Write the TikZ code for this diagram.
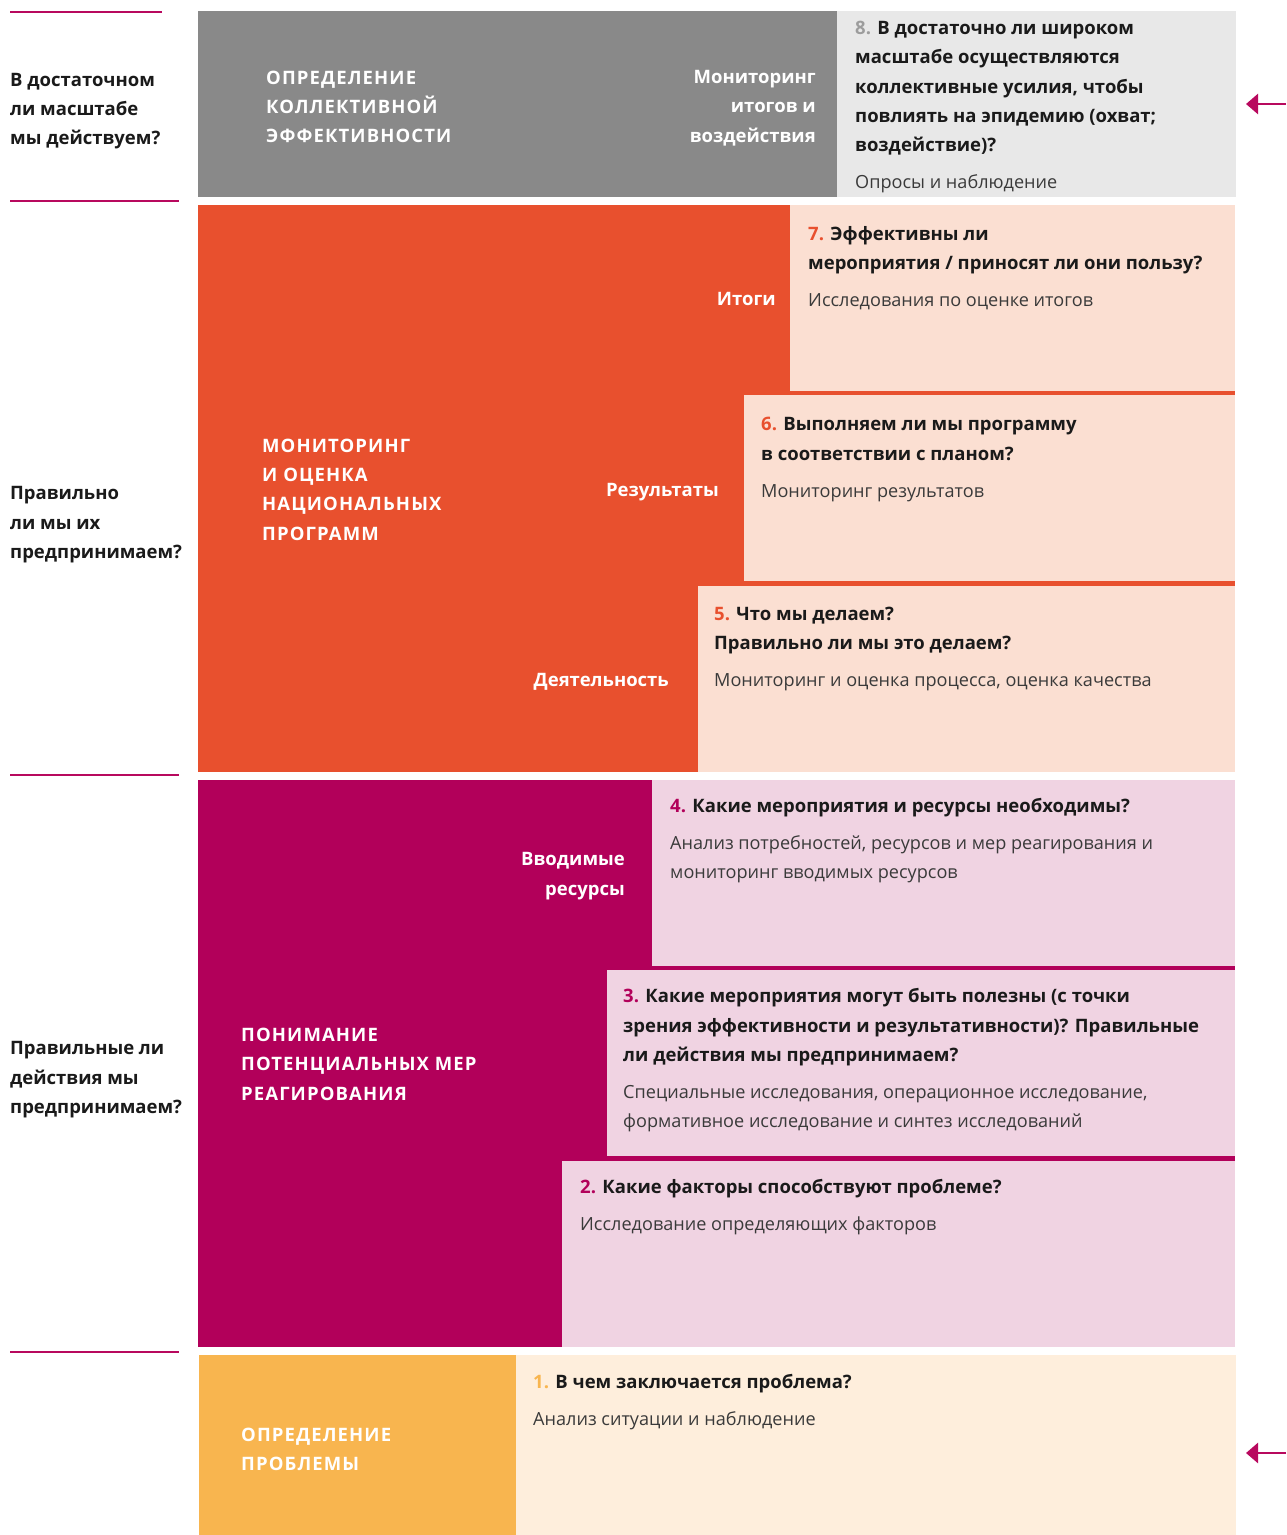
\documentclass[tikz,border=0pt]{standalone}
\usepackage{fontspec}
\setmainfont{Open Sans}
\newfontfamily\capsfont[LetterSpace=6]{Open Sans}
\usetikzlibrary{arrows.meta}
\definecolor{cgray}{HTML}{898989}
\definecolor{clgray}{HTML}{E8E8E8}
\definecolor{corange}{HTML}{E8502E}
\definecolor{cpeach}{HTML}{FBDFD2}
\definecolor{cmag}{HTML}{B2005A}
\definecolor{cpink}{HTML}{F0D3E2}
\definecolor{cyellow}{HTML}{F8B54F}
\definecolor{ccream}{HTML}{FEEEDC}
\definecolor{cline}{HTML}{B8095E}
\definecolor{cnum}{HTML}{9C9C9C}
\definecolor{ink}{HTML}{1A1A1A}
\definecolor{body}{HTML}{3A3A3A}
\tikzset{
  hb/.style={anchor=base west, inner sep=0pt, font=\fontsize{18.5}{29}\bfseries\selectfont, text=ink},
  rb/.style={anchor=base west, inner sep=0pt, font=\fontsize{18.1}{29}\selectfont, text=body},
  wl/.style={anchor=base west, inner sep=0pt, font=\capsfont\fontsize{18.5}{29}\bfseries\selectfont, text=white},
  wr/.style={anchor=base east, inner sep=0pt, font=\fontsize{18.5}{29}\bfseries\selectfont, text=white},
  sideline/.style={draw=cline, line width=2.6pt},
  sidearrow/.style={draw=cline, line width=2.6pt, -{Triangle[length=12pt,width=20pt]}},
}
\begin{document}
\begin{tikzpicture}[x=1pt,y=-1pt]
\useasboundingbox (0,0) rectangle (1286,1535);
% ---- blocks
\fill[cgray] (198,11) rectangle (837,197);
\fill[clgray] (837,11) rectangle (1236,197);
\fill[corange] (198,205) rectangle (1235,772);
\fill[cpeach] (790,205) rectangle (1235,391);
\fill[cpeach] (744,395) rectangle (1235,581);
\fill[cpeach] (698,586) rectangle (1235,772);
\fill[cmag] (198,780) rectangle (1235,1347);
\fill[cpink] (652,780) rectangle (1235,966);
\fill[cpink] (607,970) rectangle (1235,1156);
\fill[cpink] (562,1161) rectangle (1235,1347);
\fill[cyellow] (199,1355) rectangle (516,1535);
\fill[ccream] (516,1355) rectangle (1236,1535);
% ---- side rules
\coordinate (r1a) at (10,12);   \coordinate (r1b) at (162,12);
\coordinate (r2a) at (10,201);  \coordinate (r2b) at (179,201);
\coordinate (r3a) at (10,775);  \coordinate (r3b) at (179,775);
\coordinate (r4a) at (10,1352); \coordinate (r4b) at (179,1352);
\draw[sideline] (r1a) -- (r1b);
\draw[sideline] (r2a) -- (r2b);
\draw[sideline] (r3a) -- (r3b);
\draw[sideline] (r4a) -- (r4b);
% ---- arrows
\coordinate (a1s) at (1286,104); \coordinate (a1e) at (1246,104);
\coordinate (a2s) at (1286,1453); \coordinate (a2e) at (1246,1453);
\draw[sidearrow] (a1s) -- (a1e);
\draw[sidearrow] (a2s) -- (a2e);
% ---- left questions
\node[hb] (q1a) at (10,86) {В достаточном};
\node[hb] (q1b) at (10,115) {ли масштабе};
\node[hb] (q1c) at (10,144) {мы действуем?};
\node[hb] (q2a) at (10,499) {Правильно};
\node[hb] (q2b) at (10,529) {ли мы их};
\node[hb] (q2c) at (10,558) {предпринимаем?};
\node[hb] (q3a) at (10,1054) {Правильные ли};
\node[hb] (q3b) at (10,1084) {действия мы};
\node[hb] (q3c) at (10,1113) {предпринимаем?};
% ---- gray block
\node[wl] (g1) at (266,84) {ОПРЕДЕЛЕНИЕ};
\node[wl] (g2) at (266,113) {КОЛЛЕКТИВНОЙ};
\node[wl] (g3) at (266,142) {ЭФФЕКТИВНОСТИ};
\node[wr] (g4) at (816,83) {Мониторинг};
\node[wr] (g5) at (816,112) {итогов и};
\node[wr] (g6) at (816,142) {воздействия};
\node[hb] (p8a) at (855,34) {\textcolor{cnum}{8.} В достаточно ли широком};
\node[hb] (p8b) at (855,63) {масштабе осуществляются};
\node[hb] (p8c) at (855,93) {коллективные усилия, чтобы};
\node[hb] (p8d) at (855,122) {повлиять на эпидемию (охват;};
\node[hb] (p8e) at (855,151) {воздействие)?};
\node[rb] (p8f) at (855,188) {Опросы и наблюдение};
% ---- orange block
\node[wl] (o1) at (262,452) {МОНИТОРИНГ};
\node[wl] (o2) at (262,481) {И ОЦЕНКА};
\node[wl] (o3) at (262,510) {НАЦИОНАЛЬНЫХ};
\node[wl] (o4) at (262,540) {ПРОГРАММ};
\node[wr] (o5) at (776,305) {Итоги};
\node[wr] (o6) at (719,496) {Результаты};
\node[wr] (o7) at (669,686) {Деятельность};
\node[hb] (p7a) at (808,240) {\textcolor{corange}{7.} Эффективны ли};
\node[hb] (p7b) at (808,269) {мероприятия / приносят ли они пользу?};
\node[rb] (p7c) at (808,306) {Исследования по оценке итогов};
\node[hb] (p6a) at (761,430) {\textcolor{corange}{6.} Выполняем ли мы программу};
\node[hb] (p6b) at (761,460) {в соответствии с планом?};
\node[rb] (p6c) at (761,497) {Мониторинг результатов};
\node[hb] (p5a) at (714,620) {\textcolor{corange}{5.} Что мы делаем?};
\node[hb] (p5b) at (714,649) {Правильно ли мы это делаем?};
\node[rb] (p5c) at (714,686) {Мониторинг и оценка процесса, оценка качества};
% ---- magenta block
\node[wl] (m1) at (241,1041) {ПОНИМАНИЕ};
\node[wl] (m2) at (241,1070) {ПОТЕНЦИАЛЬНЫХ МЕР};
\node[wl] (m3) at (241,1100) {РЕАГИРОВАНИЯ};
\node[wr] (m4) at (625,865) {Вводимые};
\node[wr] (m5) at (625,895) {ресурсы};
\node[hb] (p4a) at (670,812) {\textcolor{cmag}{4.} Какие мероприятия и ресурсы необходимы?};
\node[rb] (p4b) at (670,849) {Анализ потребностей, ресурсов и мер реагирования и};
\node[rb] (p4c) at (670,878) {мониторинг вводимых ресурсов};
\node[hb] (p3a) at (623,1002) {\textcolor{cmag}{3.} Какие мероприятия могут быть полезны (с точки};
\node[hb] (p3b) at (623,1032) {зрения эффективности и результативности)? Правильные};
\node[hb] (p3c) at (623,1061) {ли действия мы предпринимаем?};
\node[rb] (p3d) at (623,1098) {Специальные исследования, операционное исследование,};
\node[rb] (p3e) at (623,1127) {формативное исследование и синтез исследований};
\node[hb] (p2a) at (580,1193) {\textcolor{cmag}{2.} Какие факторы способствуют проблеме?};
\node[rb] (p2b) at (580,1230) {Исследование определяющих факторов};
% ---- yellow block
\node[wl] (y1) at (241,1441) {ОПРЕДЕЛЕНИЕ};
\node[wl] (y2) at (241,1470) {ПРОБЛЕМЫ};
\node[hb] (p1a) at (533,1388) {\textcolor{cyellow}{1.} В чем заключается проблема?};
\node[rb] (p1b) at (533,1425) {Анализ ситуации и наблюдение};
\end{tikzpicture}
\end{document}
